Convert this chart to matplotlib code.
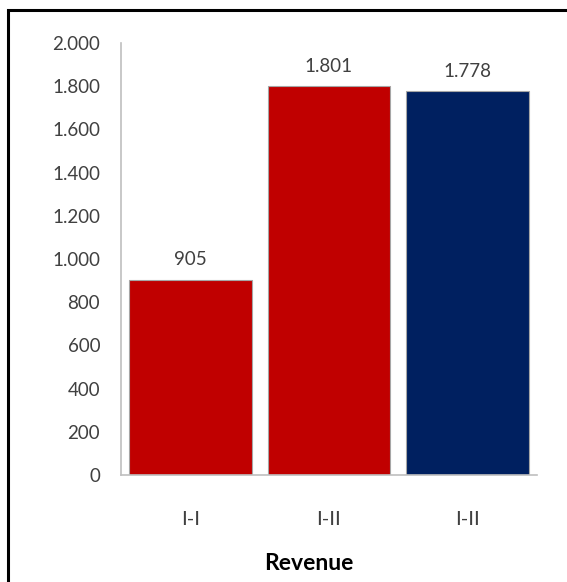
import matplotlib.pyplot as plt
from matplotlib.patches import Rectangle

categories = ['I-I', 'I-II', 'I-II']
revenue = [905, 1801, 1778]
bar_colors = ['#C00000', '#C00000', '#002060']
yticks = list(range(0, 2001, 200))

plt.rcParams['font.family'] = ['Lato', 'DejaVu Sans']

fig = plt.figure(figsize=(5.67, 5.82), dpi=100)
ax = fig.add_axes([121/567, 107/582, 416/567, 432/582])

x = list(range(len(categories)))
bars = ax.bar(x, revenue, width=0.887, color=bar_colors,
              edgecolor='#a6a6a6', linewidth=0.8)

for xi, v in zip(x, revenue):
    ax.annotate(f'{v:,}'.replace(',', '.'), (xi, v), xytext=(0, 8),
                textcoords='offset points', ha='center', va='bottom',
                fontsize=13.5, color='#404040')

ax.set_xlim(-0.5, 2.5)
ax.set_ylim(0, 2000)
ax.set_yticks(yticks)
ax.set_yticklabels([f'{t:,}'.replace(',', '.') for t in yticks])
ax.set_xticks(x)
ax.set_xticklabels(categories)
ax.tick_params(axis='both', length=0, labelsize=13.5, colors='#404040')
ax.tick_params(axis='y', pad=15)
ax.tick_params(axis='x', pad=26, labelsize=14.5)

for side in ['top', 'right']:
    ax.spines[side].set_visible(False)
for side in ['left', 'bottom']:
    ax.spines[side].set_color('#bfbfbf')
    ax.spines[side].set_linewidth(1.2)

fig.text(309/567, 18/582, 'Revenue', fontsize=16.5, fontweight='bold',
         color='black', ha='center', va='center')

# outer frame around the figure
fig.patches.append(Rectangle((8/567, -0.1), 1.2, 1 - 9.5/582 + 0.1,
                             transform=fig.transFigure, fill=False,
                             edgecolor='black', linewidth=2.2))

fig.savefig('out.png', dpi=100)
